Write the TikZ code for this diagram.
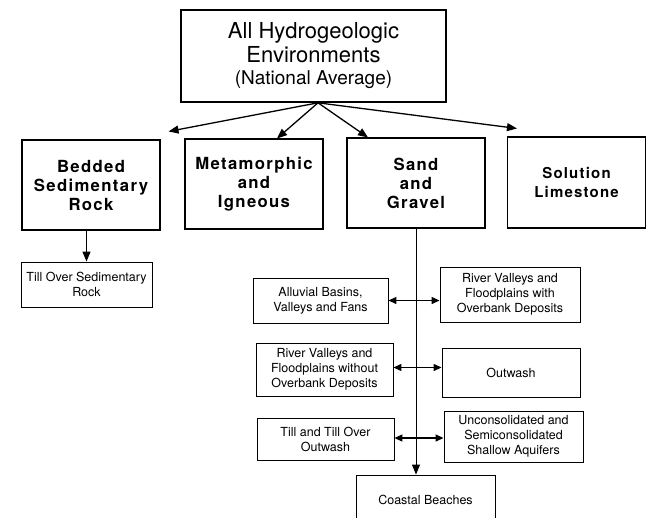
\documentclass[tikz,border=0pt]{standalone}
\usepackage{fontspec}
\setmainfont{TeX Gyre Heros}
\newfontfamily\widefont[LetterSpace=8]{TeX Gyre Heros}
\usetikzlibrary{arrows.meta, calc}

\begin{document}
\begin{tikzpicture} % one pt is one pixel of the original, y grows downwards
    [x = 1pt, y = -1pt,
      envbox/.style={draw, line width = 1.6pt, align = center, inner sep = 0pt,
        font = \fontsize{22}{24}\selectfont},
      classbox/.style={draw, line width = 1.1pt, align = center, inner sep = 0pt,
        minimum width = 138pt, minimum height = 90pt,
        font = \widefont\bfseries\fontsize{16.7}{19}\selectfont},
      settingbox/.style={draw, line width = 0.9pt, align = center, inner sep = 0pt,
        font = \fontsize{12.5}{15}\selectfont},
      onearrow/.style={-{Triangle[length = 10pt, width = 8pt]}, line width = 1.3pt},
      twoway/.style={{Triangle[length = 8pt, width = 7pt]}-{Triangle[length = 8pt, width = 7pt]},
        line width = 1.3pt}]
    \clip (0,0) rectangle (648,517);

    % the top of the tree
    \node[envbox, minimum width = 265pt, minimum height = 92pt] (top) at (313.5,56)
      {All Hydrogeologic\\Environments\\[-2pt]{\fontsize{19}{22}\selectfont (National Average)}};

    % the four big settings
    \node[classbox] (bedded) at (91,185) {Bedded\\Sedimentary\\Rock};
    \node[classbox] (meta) at (254,184) {Metamorphic\\and\\Igneous};
    \node[classbox] (sand) at (416,183) {Sand\\and\\Gravel};
    \node[classbox, minimum height = 91pt,
      font = \widefont\bfseries\fontsize{15}{19}\selectfont] (solution) at (576.5,182.5)
      {Solution\\Limestone};

    % the fork under the top box (arrow tips stop short of the outer boxes)
    \coordinate (fork) at ($(top.south)+(4.5,0)$);
    \draw[onearrow] (fork) -- ($(bedded.north east)+(8,-8)$);
    \draw[onearrow] (fork) -- ($(meta.north)+(23,0)$);
    \draw[onearrow] (fork) -- ($(sand.north)+(-48,0)$);
    \draw[onearrow] (fork) -- ($(solution.north west)+(10,-8)$);

    % below bedded rock
    \node[settingbox, minimum width = 131pt, minimum height = 45pt] (tillsed) at (86.5,284.5)
      {Till Over Sedimentary\\Rock};
    \draw[onearrow] (tillsed.north |- bedded.south) -- (tillsed.north);

    % below sand and gravel, left column
    \node[settingbox, minimum width = 135pt, minimum height = 45pt] (alluvial) at (320.5,300.5)
      {Alluvial Basins,\\Valleys and Fans};
    \node[settingbox, minimum width = 137pt, minimum height = 53pt] (rivwithout) at (324.5,369.5)
      {River Valleys and\\Floodplains without\\Overbank Deposits};
    \node[settingbox, minimum width = 137pt, minimum height = 42pt] (tilltill) at (325.5,439)
      {Till and Till Over\\Outwash};

    % right column
    \node[settingbox, minimum width = 140pt, minimum height = 55pt] (rivwith) at (510,294.5)
      {River Valleys and\\Floodplains with\\Overbank Deposits};
    \node[settingbox, minimum width = 138pt, minimum height = 49pt] (outwash) at (511,372.5)
      {Outwash};
    \node[settingbox, minimum width = 139pt, minimum height = 51pt] (uncons) at (513.5,436.5)
      {Unconsolidated and\\Semiconsolidated\\Shallow Aquifers};

    % the last one runs off the page
    \node[settingbox, minimum width = 139pt, minimum height = 50pt] (coastal) at (425.5,500)
      {Coastal Beaches};

    % trunk (thinner) and the side branches
    \draw[onearrow, line width = 0.9pt] (sand.south) -- (sand.south |- coastal.north);
    \draw[twoway] (alluvial.east) -- (alluvial.east -| rivwith.west);
    \draw[twoway] (rivwithout.east) ++(0,-2) -- (outwash.west |- 0,367.5);
    \draw[twoway] (tilltill.east) ++(0,-1) -- (uncons.west |- 0,438);
\end{tikzpicture}
\end{document}
